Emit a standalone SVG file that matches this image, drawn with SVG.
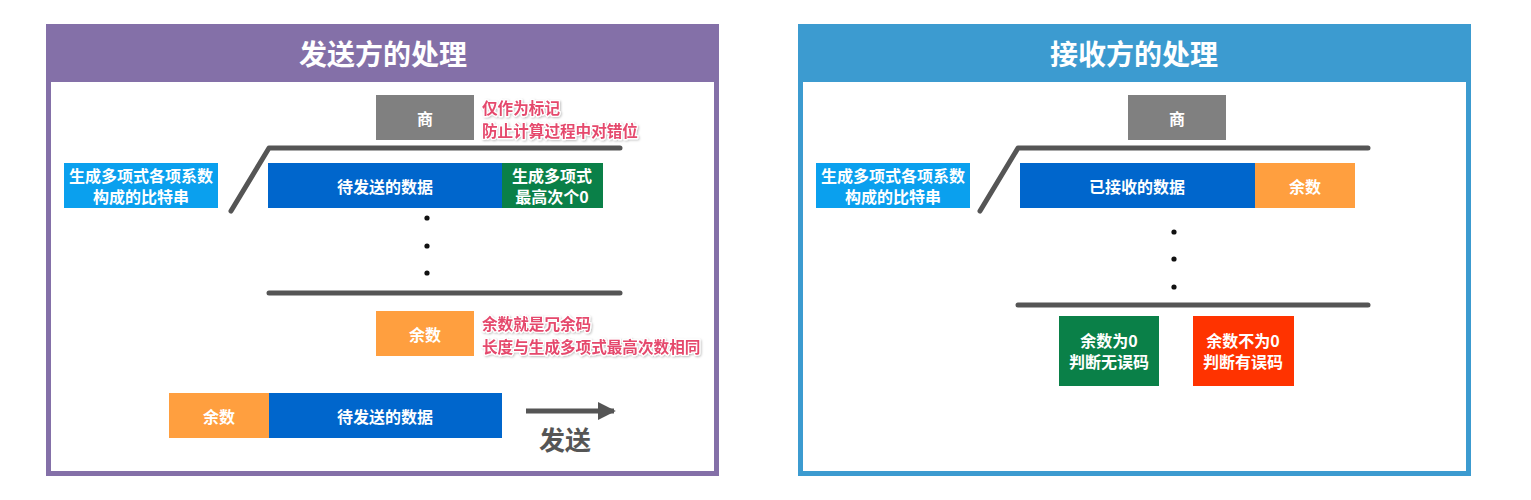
<svg xmlns="http://www.w3.org/2000/svg" width="1531" height="500" viewBox="0 0 1531 500">
<defs>
<style>
.t{font-family:"Noto Sans CJK SC","Noto Sans",sans-serif;font-weight:bold;text-anchor:middle;dominant-baseline:central}
.w{fill:#ffffff;font-size:16px}
.title{fill:#ffffff;font-size:28px}
.note{font-family:"Noto Sans CJK SC","Noto Sans",sans-serif;font-weight:bold;font-size:15.6px;fill:#e5486c;stroke:#ffffff;stroke-width:2.5;paint-order:stroke;stroke-linejoin:round;dominant-baseline:central;filter:url(#sh)}
.bar{fill:none;stroke:#555555;stroke-width:5;stroke-linecap:round;stroke-linejoin:round}
.gray{fill:#808080}
.cyan{fill:#0aa0ee}
.blue{fill:#0066cc}
.green{fill:#0a8048}
.orange{fill:#ff9f3f}
.red{fill:#ff3300}
</style>
<filter id="sh" x="-10%" y="-30%" width="120%" height="160%">
<feDropShadow dx="1" dy="1" stdDeviation="0.8" flood-color="#000" flood-opacity="0.25"/>
</filter>
<marker id="ah" viewBox="0 0 10 10" refX="9" refY="5" markerWidth="3.6" markerHeight="3.6" orient="auto" markerUnits="strokeWidth">
<path d="M0,0 L10,5 L0,10 Z" fill="#555555"/>
</marker>
</defs>
<rect width="1531" height="500" fill="#ffffff"/>

<!-- Left panel -->
<g id="sender-panel">
<rect x="46" y="24" width="673" height="452" fill="#8470a8"/>
<rect x="51" y="82" width="663" height="389" fill="#ffffff"/>
<text class="t title" x="383" y="53">发送方的处理</text>
</g>

<!-- Right panel -->
<g id="receiver-panel">
<rect x="798" y="24" width="673" height="452" fill="#3c9bd0"/>
<rect x="803" y="82" width="663" height="389" fill="#ffffff"/>
<text class="t title" x="1134" y="53">接收方的处理</text>
</g>

<g id="connectors">
<path class="bar" d="M231,211 L269,148 L620,148"/>
<path class="bar" d="M269,293 L620,293"/>
<path class="bar" d="M980,211 L1018,148 L1368,148"/>
<path class="bar" d="M1018,305 L1368,305"/>
<line x1="526" y1="411" x2="614" y2="411" stroke="#555555" stroke-width="5" marker-end="url(#ah)"/>
<g fill="#111111">
<circle cx="427" cy="218" r="2.6"/>
<circle cx="427" cy="246" r="2.6"/>
<circle cx="427" cy="273" r="2.6"/>
<circle cx="1174" cy="232" r="2.6"/>
<circle cx="1174" cy="259" r="2.6"/>
<circle cx="1174" cy="287" r="2.6"/>
</g>
</g>

<!-- Sender nodes -->
<g id="s-quotient">
<rect class="gray" x="376" y="95" width="98" height="45"/>
<text class="t w" x="425" y="118">商</text>
</g>
<g id="s-quotient-note">
<text class="note" x="482" y="107">仅作为标记</text>
<text class="note" x="482" y="130">防止计算过程中对错位</text>
</g>
<g id="s-divisor">
<rect class="cyan" x="64" y="163" width="154" height="45"/>
<text class="t w" x="141" y="175">生成多项式各项系数</text>
<text class="t w" x="141" y="196">构成的比特串</text>
</g>
<g id="s-data">
<rect class="blue" x="268" y="163" width="234" height="45"/>
<text class="t w" x="385" y="186">待发送的数据</text>
</g>
<g id="s-zeros">
<rect class="green" x="502" y="163" width="101" height="45"/>
<text class="t w" x="552" y="175">生成多项式</text>
<text class="t w" x="552" y="196">最高次个0</text>
</g>
<g id="s-remainder">
<rect class="orange" x="376" y="311" width="98" height="45"/>
<text class="t w" x="425" y="334">余数</text>
</g>
<g id="s-remainder-note">
<text class="note" x="482" y="323">余数就是冗余码</text>
<text class="note" x="482" y="346">长度与生成多项式最高次数相同</text>
</g>
<g id="s-frame-remainder">
<rect class="orange" x="169" y="393" width="100" height="45"/>
<text class="t w" x="219" y="416">余数</text>
</g>
<g id="s-frame-data">
<rect class="blue" x="269" y="393" width="233" height="45"/>
<text class="t w" x="385" y="416">待发送的数据</text>
</g>
<g id="s-send-label">
<text class="t" x="565" y="438" style="font-size:26px;fill:#555555">发送</text>
</g>

<!-- Receiver nodes -->
<g id="r-quotient">
<rect class="gray" x="1128" y="95" width="98" height="45"/>
<text class="t w" x="1177" y="118">商</text>
</g>
<g id="r-divisor">
<rect class="cyan" x="816" y="163" width="154" height="45"/>
<text class="t w" x="893" y="175">生成多项式各项系数</text>
<text class="t w" x="893" y="196">构成的比特串</text>
</g>
<g id="r-data">
<rect class="blue" x="1020" y="163" width="235" height="45"/>
<text class="t w" x="1137" y="186">已接收的数据</text>
</g>
<g id="r-remainder">
<rect class="orange" x="1255" y="163" width="100" height="45"/>
<text class="t w" x="1305" y="186">余数</text>
</g>
<g id="r-ok">
<rect class="green" x="1059" y="316" width="100" height="70"/>
<text class="t w" x="1109" y="340">余数为0</text>
<text class="t w" x="1109" y="361">判断无误码</text>
</g>
<g id="r-error">
<rect class="red" x="1193" y="316" width="101" height="70"/>
<text class="t w" x="1243" y="340">余数不为0</text>
<text class="t w" x="1243" y="361">判断有误码</text>
</g>
</svg>
